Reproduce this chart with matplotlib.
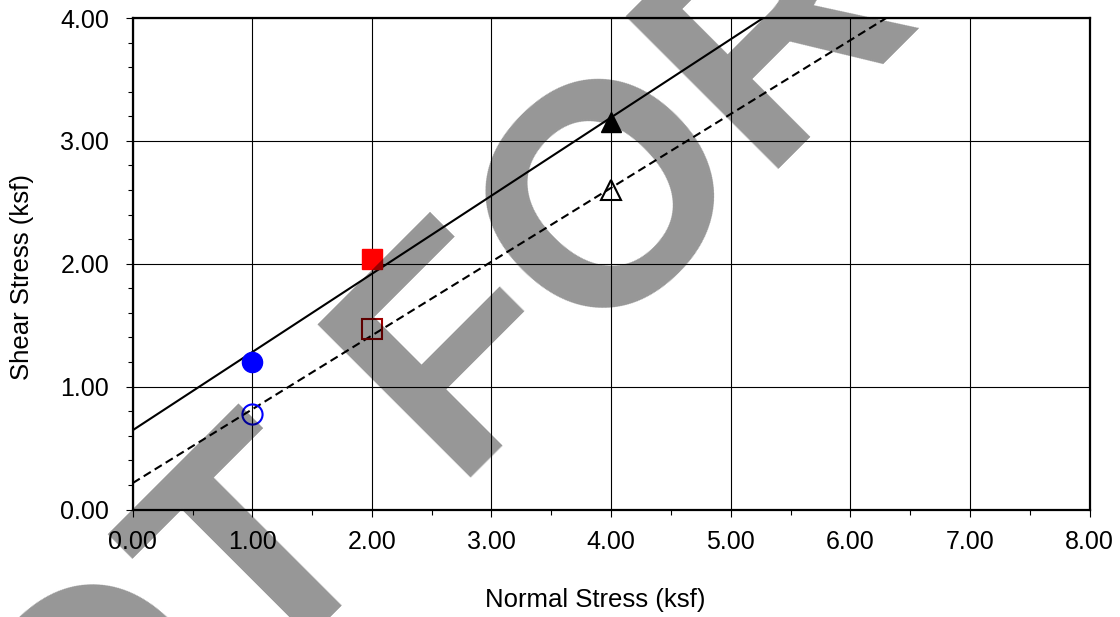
import numpy as np
import matplotlib
matplotlib.use("Agg")
import matplotlib.pyplot as plt
from matplotlib.ticker import MultipleLocator, FormatStrFormatter

plt.rcParams["font.family"] = ["Liberation Sans", "DejaVu Sans"]

# Direct shear test results
normal_stress = [1.00, 2.00, 4.00]
peak_shear = [1.20, 2.04, 3.15]
residual_shear = [0.78, 1.47, 2.60]

peak_colors = ["#0000FF", "#FF0000", "#000000"]
residual_colors = ["#0000FF", "#A00000", "#000000"]
markers = ["o", "s", "^"]
marker_sizes = [14.5, 14.0, 14.0]

x_ticks = [0, 1, 2, 3, 4, 5, 6, 7, 8]
y_ticks = [0, 1, 2, 3, 4]

W, H = 1120, 617
fig = plt.figure(figsize=(W / 100, H / 100), dpi=100)
ax = fig.add_axes([132.7 / W, 1 - 509.5 / H, (1089.5 - 132.7) / W, (509.5 - 18) / H])

ax.set_xlim(0, 8)
ax.set_ylim(0, 4)

# Best-fit strength envelopes (peak and residual)
xs = np.array([0.0, 8.0])
pk = np.polyfit(normal_stress, peak_shear, 1)
rs = np.polyfit(normal_stress, residual_shear, 1)
ax.plot(xs, np.polyval(pk, xs), color="black", lw=1.5, zorder=3)
ax.plot(xs, np.polyval(rs, xs), color="black", lw=1.5, linestyle=(0, (4, 2.2)), zorder=3)

for x, yp, yr, cp, cr, m, ms in zip(normal_stress, peak_shear, residual_shear,
                                     peak_colors, residual_colors, markers, marker_sizes):
    ax.plot([x], [yp], marker=m, ms=ms, color=cp, mfc=cp, mec=cp, mew=1.0,
            linestyle="none", zorder=4, clip_on=False)
    ax.plot([x], [yr], marker=m, ms=ms, mfc="none", mec=cr, mew=1.5,
            linestyle="none", zorder=4, clip_on=False)

ax.set_xticks(x_ticks)
ax.set_yticks(y_ticks)
ax.xaxis.set_minor_locator(MultipleLocator(0.5))
ax.yaxis.set_minor_locator(MultipleLocator(0.2))
ax.xaxis.set_major_formatter(FormatStrFormatter("%.2f"))
ax.yaxis.set_major_formatter(FormatStrFormatter("%.2f"))

ax.grid(True, which="major", color="black", lw=0.8)
ax.set_axisbelow(True)

ax.tick_params(axis="both", which="major", direction="out", length=5, width=0.8,
               labelsize=18, colors="black")
ax.tick_params(axis="both", which="minor", direction="out", length=3.8, width=0.8)
ax.tick_params(axis="x", which="major", pad=9.5)
ax.tick_params(axis="y", which="major", pad=12)

for sp in ax.spines.values():
    sp.set_linewidth(1.6)
    sp.set_color("black")

ax.set_xlabel("Normal Stress (ksf)", fontsize=18.5)
ax.xaxis.set_label_coords((595 - 132.7) / 956.8, (509.5 - 600) / 491.5)
ax.xaxis.label.set_verticalalignment("center")

ax.set_ylabel("Shear Stress (ksf)", fontsize=18.5)
ax.yaxis.set_label_coords((22 - 132.7) / 956.8, (509.5 - 277.5) / 491.5)
ax.yaxis.label.set_verticalalignment("center")

# Watermark
fig.text(-74.4 / W, 1 - 1021.4 / H, "NOT FOR CONSTRUCTION", fontsize=226,
         fontweight="bold", color="black", alpha=0.41, rotation=45,
         rotation_mode="anchor", ha="left", va="baseline", zorder=10)

fig.savefig("out.png", dpi=100)
